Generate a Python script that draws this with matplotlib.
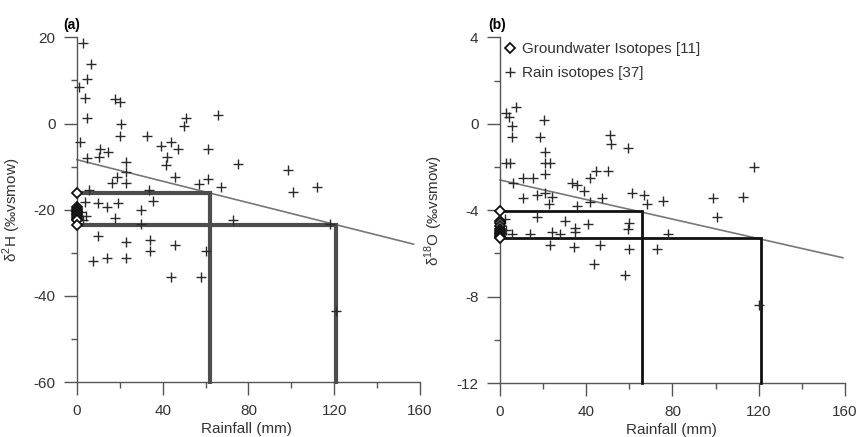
import matplotlib
matplotlib.use("Agg")
import matplotlib.pyplot as plt
from matplotlib.ticker import MultipleLocator

plt.rcParams["font.family"] = ["Liberation Sans", "DejaVu Sans"]
plt.rcParams["axes.unicode_minus"] = False
plt.rcParams["mathtext.fontset"] = "custom"
plt.rcParams["mathtext.rm"] = "Liberation Sans"

# panel (a): delta 2H vs rainfall
rain_x_a = [2.8, 6.5, 4.7, 0.9, 3.7, 4.7, 17.7, 20, 20.5, 20, 32.6, 51, 50, 66, 1.4, 10.7, 10.3,
            14.5, 39, 44, 47, 42, 41.5, 61, 75, 98.5, 101, 112, 4.7, 23, 23, 18.7, 16.3, 23,
            45.7, 61, 57, 67, 5.6, 33.6, 3.7, 9.8, 14, 19, 35.4, 30, 17.7, 30, 73, 118, 9.8,
            23, 34, 34, 45.7, 60, 7.5, 14, 23, 43.8, 58, 121, 2, 4, 3]
rain_y_a = [18.6, 13.7, 10.4, 8.4, 6.0, 1.2, 5.6, 5.1, -0.2, -2.8, -2.8, 1.2, -0.5, 1.9, -4.2,
            -5.8, -7.7, -6.7, -5.3, -4.2, -6.0, -7.7, -9.7, -6.0, -9.3, -10.7, -15.8, -14.8,
            -7.9, -9.0, -11.3, -12.5, -13.9, -13.9, -12.5, -12.8, -14.1, -14.7, -15.4, -15.4,
            -18.1, -18.5, -19.3, -18.5, -17.9, -20, -22, -23.4, -22.3, -23.4, -26.2, -27.4,
            -27, -29.7, -28.1, -29.5, -31.8, -31.3, -31.1, -35.7, -35.7, -43.6, -20.5, -21.5,
            -22.5]
gw_a = [-16.2, -19.3, -19.8, -20.3, -20.6, -21.0, -21.3, -21.7, -22.1, -22.5, -23.6]
reg_x_a = [0, 157]
reg_y_a = [-8.4, -28.0]
hi_a = (62, -16.2)    # rainfall, isotope at max groundwater
lo_a = (121, -23.6)   # rainfall, isotope at min groundwater

# panel (b): delta 18O vs rainfall
rain_x_b = [7.4, 2.8, 4.2, 5.6, 5.6, 20.4, 18.6, 20.9, 20.9, 23.2, 20.9, 51, 51.5, 59.4, 2.8,
            4.6, 6, 10.7, 15.3, 44.5, 41.7, 50, 33.4, 35.7, 39, 118, 61, 67, 68, 75.6, 98.8,
            112.7, 47.3, 41.7, 10.7, 17, 20.9, 24, 22.7, 17, 30, 35.7, 60, 100.6, 59.4, 78,
            24, 28, 34.8, 34.8, 40.8, 14, 5.6, 23.2, 34.3, 46.4, 60, 73, 43.6, 58, 120, 2.5, 3]
rain_y_b = [0.8, 0.5, 0.3, -0.1, -0.6, 0.2, -0.6, -1.3, -1.8, -1.8, -2.3, -0.5, -0.95, -1.1,
            -1.8, -1.8, -2.75, -2.5, -2.5, -2.2, -2.5, -2.2, -2.75, -2.85, -3.1, -2.0, -3.2,
            -3.3, -3.7, -3.55, -3.45, -3.4, -3.45, -3.6, -3.45, -3.3, -3.2, -3.4, -3.7, -4.3,
            -4.5, -3.8, -4.6, -4.3, -4.85, -5.1, -5.0, -5.1, -5.0, -4.8, -4.65, -5.1, -5.1,
            -5.6, -5.7, -5.6, -5.8, -5.8, -6.5, -7.0, -8.4, -4.4, -4.9]
gw_b = [-4.05, -4.5, -4.6, -4.75, -4.85, -4.95, -5.05, -5.1, -5.2, -5.25, -5.3]
reg_x_b = [0, 159]
reg_y_b = [-2.6, -6.2]
hi_b = (66, -4.05)
lo_b = (121, -5.3)

AX_COL = "#555555"
TXT_COL = "#333333"

fig = plt.figure(figsize=(8.58, 4.37), dpi=100)
ax_a = fig.add_axes([0.0697, 0.1208, 0.4248, 0.7987])
ax_b = fig.add_axes([0.5626, 0.1185, 0.4273, 0.8008])


def style_axis(ax, ylim, ymajor, yminor, ybottom, ytop):
    ax.set_xlim(-8, 162)
    ax.set_ylim(*ylim)
    for side in ("top", "right"):
        ax.spines[side].set_visible(False)
    ax.spines["left"].set_position(("data", 0))
    ax.spines["bottom"].set_position(("data", ybottom))
    ax.spines["left"].set_bounds(ybottom, ytop)
    ax.spines["bottom"].set_bounds(0, 160)
    for side in ("left", "bottom"):
        ax.spines[side].set_color(AX_COL)
        ax.spines[side].set_linewidth(1.0)
    ax.xaxis.set_major_locator(MultipleLocator(40))
    ax.xaxis.set_minor_locator(MultipleLocator(20))
    ax.yaxis.set_major_locator(MultipleLocator(ymajor))
    ax.yaxis.set_minor_locator(MultipleLocator(yminor))
    ax.tick_params(which="major", length=9.5, width=1.0, color=AX_COL,
                   labelsize=11, labelcolor=TXT_COL, pad=6)
    ax.tick_params(which="minor", length=4.5, width=1.0, color=AX_COL)
    ax.set_xlabel("Rainfall (mm)", fontsize=11, color=TXT_COL)
    ax.patch.set_visible(False)


def draw_panel(ax, rx, ry, gw, reg_x, reg_y, hi, lo, ybottom, line_col, line_w):
    ax.plot(reg_x, reg_y, color="#777777", lw=1.2, zorder=2)
    for xr, yv in (hi, lo):
        ax.plot([0, xr, xr], [yv, yv, ybottom], color=line_col, lw=line_w,
                solid_joinstyle="miter", zorder=3)
    ax.plot(rx, ry, linestyle="none", marker="+", ms=7, mew=1.0, color="#2a2a2a",
            label="Rain isotopes [37]", zorder=4, clip_on=False)
    ax.plot([0] * len(gw), gw, linestyle="none", marker="D", ms=5, mew=1.3, mec="#111111",
            mfc="white", label="Groundwater Isotopes [11]", zorder=5, clip_on=False)


style_axis(ax_a, (-60.5, 20.5), 20, 10, -60, 20)
draw_panel(ax_a, rain_x_a, rain_y_a, gw_a, reg_x_a, reg_y_a, hi_a, lo_a, -60, "#4d4d4d", 3.0)
ax_a.set_ylabel(r"δ$^{\mathrm{2}}$H (‰vsmow)", fontsize=11, color=TXT_COL)
ax_a.yaxis.set_label_coords(-0.10, 0.5)
ax_a.xaxis.set_label_coords(0.513, -0.108)

style_axis(ax_b, (-12.1, 4.1), 4, 2, -12, 4)
draw_panel(ax_b, rain_x_b, rain_y_b, gw_b, reg_x_b, reg_y_b, hi_b, lo_b, -12, "#111111", 2.0)
ax_b.set_ylabel(r"δ$^{\mathrm{18}}$O (‰vsmow)", fontsize=11, color=TXT_COL)
ax_b.yaxis.set_label_coords(-0.103, 0.5)
ax_b.xaxis.set_label_coords(0.516, -0.108)

handles, labels = ax_b.get_legend_handles_labels()
ax_b.legend(handles[::-1], labels[::-1], loc="upper left", bbox_to_anchor=(0.058, 0.98),
            frameon=False, fontsize=11, handlelength=0.8, handletextpad=0.4,
            borderpad=0, borderaxespad=0, labelspacing=0.65, labelcolor=TXT_COL)

fig.text(0.084, 0.943, "(a)", fontsize=10, fontweight="bold", ha="center", va="center")
fig.text(0.579, 0.943, "(b)", fontsize=10, fontweight="bold", ha="center", va="center")

fig.savefig("out.png", dpi=100)
